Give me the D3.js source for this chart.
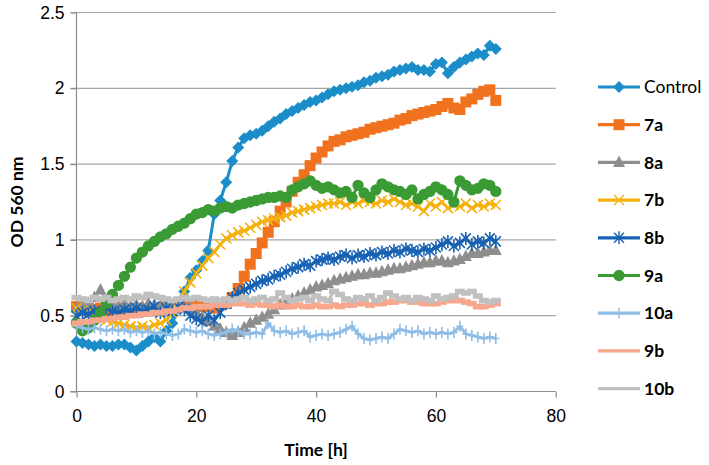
<!DOCTYPE html>
<html>
<head>
<meta charset="utf-8">
<script src="https://cdn.jsdelivr.net/npm/d3@7"></script>
<style>
  body { margin: 0; background: #fff; }
  svg { font-family: Lato, "Open Sans", sans-serif; }
  .grid line { stroke: #a6a6a6; stroke-width: 1.2; }
  .axis path, .axis line { stroke: #8c8c8c; stroke-width: 1.2; }
  .axis text { font-size: 17.5px; fill: #000; }
</style>
</head>
<body>
<svg id="chart" width="709" height="465"></svg>
<script>
// hours 0..70, one reading per hour
const times = d3.range(0, 71);

const seriesNames = ["Control", "7a", "8a", "7b", "8b", "9a", "10a", "9b", "10b"];

const control = [0.33,0.32,0.31,0.30,0.31,0.30,0.30,0.31,0.31,0.29,0.27,0.30,0.33,0.36,0.33,0.40,0.45,0.55,0.66,0.75,0.80,0.86,0.93,1.17,1.26,1.38,1.52,1.61,1.67,1.69,1.70,1.72,1.75,1.78,1.80,1.83,1.85,1.87,1.89,1.91,1.92,1.94,1.96,1.98,1.99,2.00,2.01,2.02,2.04,2.05,2.07,2.08,2.09,2.11,2.12,2.13,2.14,2.12,2.12,2.11,2.16,2.17,2.10,2.14,2.17,2.19,2.21,2.23,2.22,2.28,2.26];
const s7a = [0.56,0.55,0.57,0.54,0.55,0.53,0.54,0.55,0.53,0.54,0.55,0.54,0.53,0.55,0.54,0.56,0.55,0.57,0.56,0.55,0.57,0.56,0.58,0.55,0.57,0.58,0.62,0.68,0.76,0.84,0.91,0.98,1.05,1.12,1.19,1.25,1.32,1.38,1.43,1.49,1.54,1.58,1.62,1.65,1.66,1.68,1.69,1.70,1.71,1.73,1.74,1.75,1.76,1.77,1.79,1.80,1.82,1.83,1.84,1.85,1.86,1.88,1.90,1.87,1.86,1.91,1.93,1.96,1.98,1.99,1.92];
const s8a = [0.55,0.57,0.58,0.62,0.67,0.60,0.57,0.56,0.58,0.56,0.57,0.56,0.58,0.57,0.56,0.57,0.56,0.57,0.56,0.55,0.52,0.49,0.46,0.43,0.41,0.39,0.37,0.39,0.42,0.45,0.47,0.49,0.51,0.54,0.57,0.59,0.61,0.63,0.65,0.67,0.69,0.70,0.71,0.73,0.74,0.75,0.76,0.77,0.77,0.78,0.78,0.79,0.80,0.81,0.81,0.82,0.83,0.84,0.85,0.85,0.86,0.86,0.85,0.86,0.87,0.89,0.91,0.91,0.92,0.93,0.93];
const s7b = [0.55,0.53,0.52,0.50,0.48,0.47,0.46,0.45,0.44,0.43,0.42,0.43,0.42,0.44,0.45,0.47,0.52,0.59,0.66,0.72,0.78,0.83,0.88,0.92,0.97,1.01,1.03,1.05,1.06,1.08,1.10,1.12,1.13,1.14,1.15,1.16,1.18,1.19,1.20,1.21,1.22,1.23,1.24,1.24,1.25,1.23,1.25,1.24,1.26,1.25,1.24,1.26,1.25,1.27,1.25,1.23,1.24,1.22,1.19,1.24,1.22,1.25,1.21,1.23,1.22,1.24,1.21,1.23,1.22,1.24,1.23];
const s8b = [0.50,0.52,0.51,0.53,0.52,0.55,0.53,0.52,0.54,0.53,0.55,0.53,0.54,0.56,0.52,0.55,0.53,0.56,0.54,0.50,0.48,0.46,0.50,0.47,0.52,0.58,0.62,0.65,0.67,0.69,0.71,0.73,0.74,0.76,0.77,0.79,0.81,0.82,0.84,0.83,0.86,0.87,0.88,0.87,0.89,0.90,0.88,0.90,0.89,0.91,0.90,0.92,0.91,0.93,0.92,0.94,0.93,0.92,0.94,0.93,0.95,0.97,0.99,0.96,0.98,1.01,0.97,0.99,0.98,1.01,0.99];
const s9a = [0.45,0.40,0.42,0.47,0.52,0.58,0.64,0.70,0.76,0.82,0.88,0.92,0.96,0.99,1.02,1.04,1.07,1.09,1.11,1.14,1.17,1.18,1.20,1.19,1.21,1.22,1.21,1.23,1.24,1.25,1.26,1.27,1.28,1.28,1.29,1.28,1.33,1.35,1.37,1.39,1.36,1.34,1.35,1.33,1.31,1.32,1.28,1.36,1.31,1.28,1.33,1.37,1.35,1.33,1.32,1.30,1.33,1.27,1.30,1.32,1.35,1.33,1.30,1.25,1.39,1.36,1.33,1.34,1.37,1.36,1.32];
const s10a = [0.43,0.42,0.41,0.42,0.41,0.40,0.41,0.40,0.41,0.39,0.40,0.39,0.40,0.38,0.39,0.38,0.37,0.38,0.41,0.40,0.39,0.40,0.38,0.37,0.38,0.39,0.41,0.40,0.38,0.38,0.39,0.38,0.45,0.40,0.39,0.40,0.38,0.39,0.40,0.36,0.37,0.38,0.37,0.38,0.39,0.41,0.43,0.38,0.35,0.34,0.35,0.36,0.35,0.38,0.41,0.40,0.39,0.40,0.38,0.39,0.38,0.39,0.38,0.39,0.43,0.38,0.37,0.36,0.35,0.36,0.35];
const s9b = [0.45,0.46,0.46,0.47,0.47,0.48,0.48,0.49,0.49,0.50,0.50,0.51,0.51,0.52,0.52,0.53,0.53,0.54,0.55,0.55,0.56,0.56,0.56,0.57,0.57,0.57,0.58,0.58,0.58,0.57,0.58,0.57,0.57,0.56,0.57,0.56,0.56,0.57,0.56,0.56,0.57,0.56,0.56,0.57,0.56,0.57,0.57,0.58,0.58,0.57,0.58,0.58,0.59,0.59,0.60,0.60,0.59,0.59,0.58,0.58,0.58,0.59,0.60,0.60,0.60,0.59,0.58,0.56,0.56,0.57,0.58];
const s10b = [0.62,0.61,0.60,0.62,0.61,0.62,0.60,0.61,0.62,0.61,0.63,0.62,0.64,0.63,0.62,0.61,0.60,0.61,0.62,0.61,0.62,0.61,0.60,0.61,0.60,0.61,0.60,0.61,0.62,0.60,0.61,0.62,0.60,0.61,0.65,0.62,0.60,0.61,0.62,0.60,0.63,0.61,0.60,0.66,0.64,0.61,0.60,0.62,0.61,0.63,0.60,0.62,0.65,0.63,0.61,0.62,0.60,0.62,0.61,0.60,0.63,0.61,0.62,0.63,0.66,0.65,0.66,0.63,0.60,0.59,0.60];

const xTicks = [0, 20, 40, 60, 80];
const yTicks = [0, 0.5, 1, 1.5, 2, 2.5];

const seriesValues = [control, s7a, s8a, s7b, s8b, s9a, s10a, s9b, s10b];
const seriesColors = ["#1b8dc8", "#f0721f", "#8e8e8e", "#f5b10c", "#1862b3", "#3a9b34", "#8fbde6", "#f8a78c", "#c0c0c0"];
const seriesMarkers = ["diamond", "square", "triangle", "cross", "star", "circle", "plus", "dash", "dash"];

// marker path strings centred on 0,0
function markerPath(type) {
  switch (type) {
    case "diamond": return "M0,-6L6,0L0,6L-6,0Z";
    case "square": return "M-5.5,-5.5H5.5V5.5H-5.5Z";
    case "triangle": return "M0,-7L6,4.5L-6,4.5Z";
    case "cross": return "M-5,-5L5,5M5,-5L-5,5";
    case "star": return "M-5,-5L5,5M5,-5L-5,5M0,-6.5V6.5";
    case "circle": return d3.symbol(d3.symbolCircle, 100)();
    case "plus": return "M0,-5.5V5.5M-3.5,0H3.5";
    case "dash": return "M-5,-2.8H5V2.8H-5Z";
  }
}
const strokeMarkers = ["cross", "star", "plus"];

const svg = d3.select("#chart");
const margin = { left: 76.5, right: 153.3, top: 12.5, bottom: 73.5 };
const width = 709 - margin.left - margin.right;
const height = 465 - margin.top - margin.bottom;

const x = d3.scaleLinear().domain([0, 80]).range([0, width]);
const y = d3.scaleLinear().domain([0, 2.5]).range([height, 0]);

const g = svg.append("g").attr("transform", `translate(${margin.left},${margin.top})`);

// horizontal gridlines (with outside ticks on the left)
g.append("g")
  .attr("class", "grid")
  .selectAll("line")
  .data(yTicks.filter((d) => d > 0))
  .join("line")
  .attr("x1", -6)
  .attr("x2", width)
  .attr("y1", (d) => y(d))
  .attr("y2", (d) => y(d));

const yAxis = g.append("g")
  .attr("class", "axis")
  .call(d3.axisLeft(y).tickValues(yTicks).tickFormat(d3.format("")).tickSize(6).tickPadding(6));
yAxis.select(".domain").attr("d", `M0,${height}V0`);

const xAxis = g.append("g")
  .attr("class", "axis")
  .attr("transform", `translate(0,${height})`)
  .call(d3.axisBottom(x).tickValues(xTicks).tickSize(6).tickPadding(12));
xAxis.select(".domain").attr("d", `M-6,0H${width}`);

const line = d3.line()
  .x((d, i) => x(times[i]))
  .y((d) => y(d));

seriesValues.forEach((vals, si) => {
  const color = seriesColors[si];
  const type = seriesMarkers[si];
  const sg = g.append("g").attr("class", "series");

  sg.append("path")
    .datum(vals)
    .attr("fill", "none")
    .attr("stroke", color)
    .attr("stroke-width", 3)
    .attr("stroke-linejoin", "round")
    .attr("d", line);

  const isStroke = strokeMarkers.includes(type);
  sg.selectAll("path.marker")
    .data(vals)
    .join("path")
    .attr("class", "marker")
    .attr("transform", (d, i) => `translate(${x(times[i])},${y(d)})`)
    .attr("d", markerPath(type))
    .attr("fill", isStroke ? "none" : color)
    .attr("stroke", color)
    .attr("stroke-width", isStroke ? 1.6 : 0);
});

// axis titles
svg.append("text")
  .attr("x", margin.left + x(40))
  .attr("y", 456)
  .attr("text-anchor", "middle")
  .attr("font-size", 17.5)
  .attr("font-weight", "bold")
  .text("Time [h]");

svg.append("text")
  .attr("transform", `translate(23,${margin.top + y(1.25)}) rotate(-90)`)
  .attr("text-anchor", "middle")
  .attr("font-size", 17.5)
  .attr("font-weight", "bold")
  .text("OD 560 nm");

// legend
const legend = svg.append("g").attr("transform", "translate(598,87)");
const legendItems = legend.selectAll("g")
  .data(seriesNames)
  .join("g")
  .attr("transform", (d, i) => `translate(0,${i * 37.7})`);

legendItems.append("line")
  .attr("x1", 0)
  .attr("x2", 42)
  .attr("stroke", (d, i) => seriesColors[i])
  .attr("stroke-width", 3.2);

legendItems.append("path")
  .attr("transform", "translate(21,0)")
  .attr("d", (d, i) => markerPath(seriesMarkers[i]))
  .attr("fill", (d, i) => strokeMarkers.includes(seriesMarkers[i]) ? "none" : seriesColors[i])
  .attr("stroke", (d, i) => seriesColors[i])
  .attr("stroke-width", (d, i) => strokeMarkers.includes(seriesMarkers[i]) ? 1.4 : 0)
  .attr("display", (d, i) => seriesMarkers[i] === "dash" ? "none" : null);

legendItems.append("text")
  .attr("x", 46)
  .attr("dy", "0.35em")
  .attr("font-size", 17.5)
  .attr("font-weight", (d, i) => i === 0 ? "normal" : "bold")
  .text((d) => d);
</script>
</body>
</html>
